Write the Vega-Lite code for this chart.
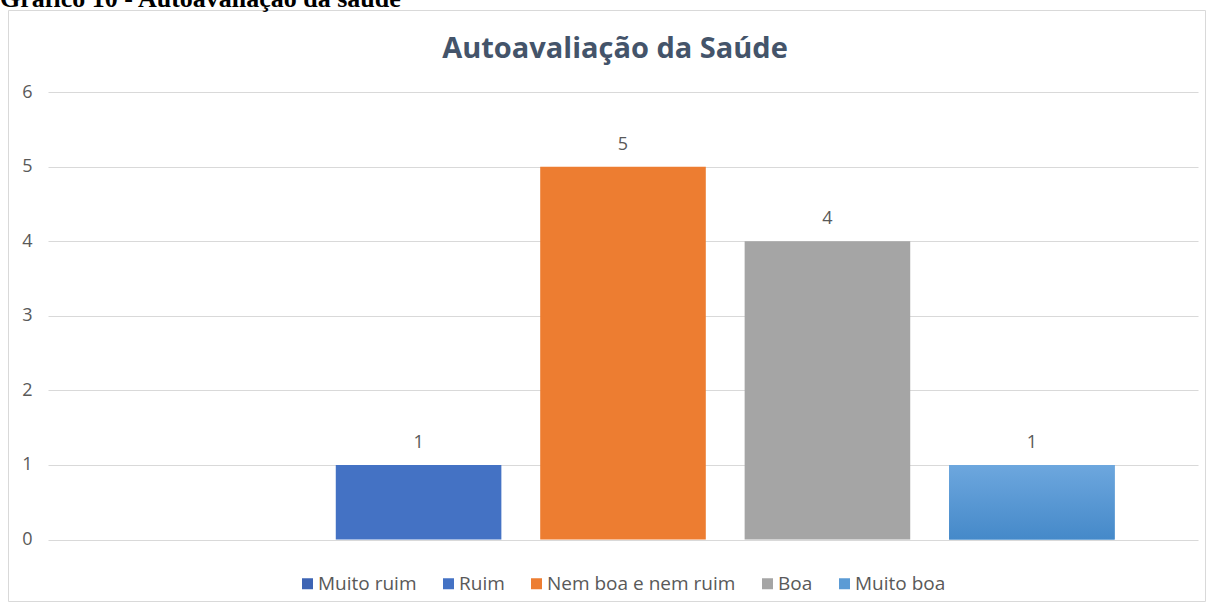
{
  "$schema": "https://vega.github.io/schema/vega-lite/v6.json",
  "width": 1197,
  "height": 591,
  "autosize": {"type": "none"},
  "padding": {"left": 8, "top": 10, "right": 1, "bottom": 3},
  "background": "white",
  "title": {
    "text": "Gráfico 10 - Autoavaliação da saúde",
    "anchor": "start",
    "frame": "group",
    "font": "Liberation Serif",
    "fontSize": 26,
    "fontWeight": "bold",
    "color": "#000000",
    "dx": -8,
    "dy": 23,
    "offset": 0,
    "baseline": "alphabetic"
  },
  "config": {
    "view": {"stroke": "#D9D9D9", "strokeWidth": 1},
    "font": "Open Sans"
  },
  "data": {
    "values": [
      {"categoria": "Muito ruim", "valor": 0},
      {"categoria": "Ruim", "valor": 1},
      {"categoria": "Nem boa e nem ruim", "valor": 5},
      {"categoria": "Boa", "valor": 4},
      {"categoria": "Muito boa", "valor": 1}
    ]
  },
  "encoding": {
    "x": {
      "field": "categoria",
      "type": "nominal",
      "sort": ["Muito ruim", "Ruim", "Nem boa e nem ruim", "Boa", "Muito boa"],
      "scale": {"range": [40, 1190], "paddingInner": 0.19, "paddingOuter": 0.4077},
      "axis": {
        "orient": "top",
        "labels": false,
        "ticks": false,
        "domain": false,
        "grid": false,
        "title": "Autoavaliação da Saúde",
        "titleFont": "Open Sans",
        "titleFontSize": 29,
        "titleFontWeight": "bold",
        "titleColor": "#44546A",
        "titleX": 606.5,
        "titleY": 47.7,
        "titleAlign": "center",
        "titleBaseline": "alphabetic"
      }
    },
    "y": {
      "field": "valor",
      "type": "quantitative",
      "scale": {"domain": [0, 6], "range": [529.5, 82.3], "nice": false},
      "axis": {
        "values": [0, 1, 2, 3, 4, 5, 6],
        "title": null,
        "domain": false,
        "ticks": false,
        "offset": -28,
        "labelPadding": 4,
        "labelFont": "Open Sans",
        "labelFontSize": 18,
        "labelColor": "#595959",
        "gridColor": "#D9D9D9",
        "gridWidth": 1
      }
    }
  },
  "layer": [
    {
      "mark": {"type": "bar"},
      "encoding": {
        "color": {
          "field": "categoria",
          "type": "nominal",
          "scale": {
            "domain": ["Muito ruim", "Ruim", "Nem boa e nem ruim", "Boa", "Muito boa"],
            "range": ["#3D64B4", "#4472C4", "#ED7D31", "#A5A5A5", "#5B9BD5"]
          },
          "legend": {
            "orient": "none",
            "legendX": 290,
            "legendY": 564,
            "direction": "horizontal",
            "title": null,
            "symbolType": "square",
            "symbolSize": 121,
            "symbolStrokeWidth": 0,
            "labelFont": "Open Sans",
            "labelFontSize": 19,
            "labelLimit": 400,
            "labelColor": "#595959",
            "labelOffset": 1,
            "columnPadding": 22,
            "padding": 0
          }
        }
      }
    },
    {
      "transform": [{"filter": "datum.categoria === 'Muito boa'"}],
      "mark": {
        "type": "bar",
        "color": {
          "gradient": "linear",
          "x1": 0, "y1": 0, "x2": 0, "y2": 1,
          "stops": [
            {"offset": 0, "color": "#6DA7DE"},
            {"offset": 1, "color": "#4589C9"}
          ]
        }
      }
    },
    {
      "transform": [{"filter": "datum.valor > 0"}],
      "mark": {"type": "text", "dy": -17, "baseline": "alphabetic", "fontSize": 18, "color": "#595959", "font": "Open Sans"},
      "encoding": {"text": {"field": "valor", "type": "quantitative"}}
    }
  ]
}
